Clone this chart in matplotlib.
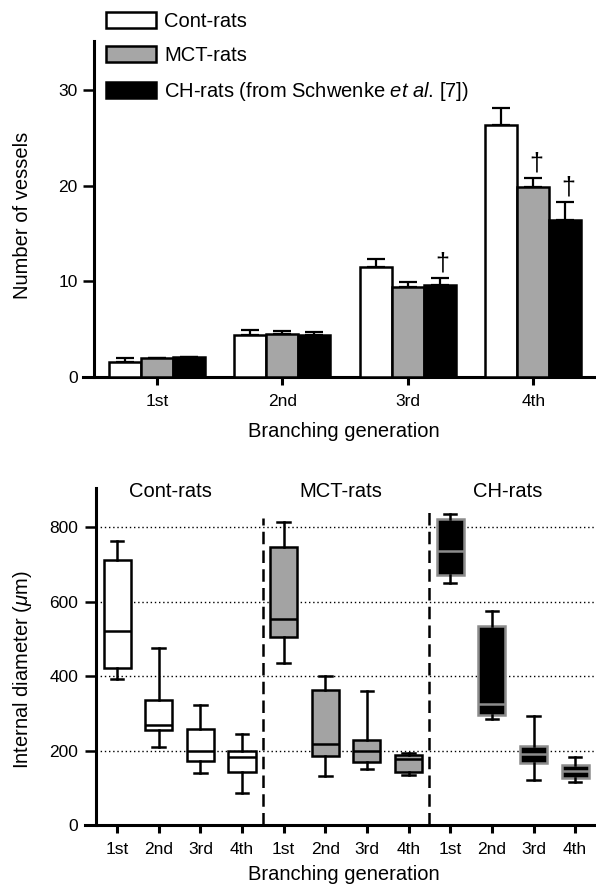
import numpy as np
import matplotlib
matplotlib.use("Agg")
import matplotlib.pyplot as plt
from matplotlib.patches import Patch

plt.rcParams['font.family'] = ['Liberation Sans', 'DejaVu Sans']
plt.rcParams['mathtext.fontset'] = 'custom'
plt.rcParams['mathtext.rm'] = 'Liberation Sans'
plt.rcParams['mathtext.it'] = 'Liberation Sans:italic'

# ----------------------------
# data: top panel (number of vessels)
# ----------------------------
generations = ['1st', '2nd', '3rd', '4th']
group_names = ['Cont-rats', 'MCT-rats', 'CH-rats (from Schwenke $\\it{et\\ al}$. [7])']

cont_mean = [1.6, 4.4, 11.5, 26.3]
cont_err = [0.35, 0.5, 0.8, 1.8]
mct_mean = [1.95, 4.5, 9.4, 19.9]
mct_err = [0.05, 0.35, 0.5, 0.9]
ch_mean = [2.1, 4.4, 9.6, 16.4]
ch_err = [0.0, 0.3, 0.7, 1.9]

# dagger = significant vs Cont-rats
mct_sig = [False, False, False, True]
ch_sig = [False, False, True, True]

# ----------------------------
# data: bottom panel (internal diameter, um)
# ----------------------------
box_groups = ['Cont-rats', 'MCT-rats', 'CH-rats']
cont_whislo = [393, 211, 140, 86]
cont_q1 = [421, 256, 173, 144]
cont_med = [522, 270, 199, 182]
cont_q3 = [712, 336, 258, 200]
cont_whishi = [763, 477, 323, 244]

mct_whislo = [435, 132, 150, 134]
mct_q1 = [505, 187, 171, 144]
mct_med = [553, 218, 199, 178]
mct_q3 = [748, 363, 229, 189]
mct_whishi = [815, 401, 359, 193]

ch_whislo = [651, 285, 122, 117]
ch_q1 = [672, 296, 166, 128]
ch_med = [736, 326, 191, 147]
ch_q3 = [821, 535, 213, 162]
ch_whishi = [835, 575, 292, 183]

grid_levels = [200, 400, 600, 800]

# ----------------------------
# figure
# ----------------------------
fig = plt.figure(figsize=(5.96, 8.86), dpi=100)
ax1 = fig.add_axes([83 / 596, 1 - 377 / 886, 513 / 596, 336 / 886])
ax2 = fig.add_axes([85 / 596, 1 - 825.3 / 886, 511 / 596, 337.3 / 886])

# ---- top: bars ----
X = np.arange(len(generations))
w = 0.255
series = [
    (cont_mean, cont_err, 'white', 'black'),
    (mct_mean, mct_err, '#a6a6a6', 'black'),
    (ch_mean, ch_err, 'black', 'black'),
]
for i, (vals, errs, fc, ec) in enumerate(series):
    pos = X + (i - 1) * w
    ax1.bar(pos, vals, width=w, color=fc, edgecolor=ec, linewidth=1.8, zorder=3)
    ax1.errorbar(pos, vals, yerr=[np.zeros(len(errs)), errs], fmt='none',
                 ecolor='black', elinewidth=1.6, capsize=6.5, capthick=1.6, zorder=2)

for i, (vals, errs, sig) in enumerate([(mct_mean, mct_err, mct_sig), (ch_mean, ch_err, ch_sig)]):
    pos = X + i * w
    for p, v, e, s in zip(pos, vals, errs, sig):
        if s:
            ax1.annotate('\u2020', xy=(p, v + e), xytext=(2, 2), textcoords='offset points',
                         ha='center', va='bottom', fontsize=18)

ax1.set_xlim(-0.59, 3.5)
ax1.set_ylim(0, 35.1)
ax1.set_xticks(X)
ax1.set_xticklabels(generations)
ax1.set_yticks([0, 10, 20, 30])
ax1.spines['top'].set_visible(False)
ax1.spines['right'].set_visible(False)
ax1.spines['left'].set_position(('data', -0.5))
for s in ['left', 'bottom']:
    ax1.spines[s].set_linewidth(2.2)
ax1.tick_params(axis='y', direction='out', length=8, width=1.8, labelsize=12.5, pad=4)
ax1.tick_params(axis='x', direction='out', length=6, width=2.2, labelsize=12.5, pad=6)
ax1.set_ylabel('Number of vessels', fontsize=14.5)
ax1.yaxis.set_label_coords(-0.10, 0.48)
ax1.set_xlabel('Branching generation', fontsize=14.5)
ax1.xaxis.set_label_coords(0.508, -0.133)

handles = [Patch(facecolor=c, edgecolor='black', linewidth=1.8) for c in ['white', '#a6a6a6', 'black']]
ax1.legend(handles, group_names, loc='upper left', bbox_to_anchor=(106 / 596, 1 - 12 / 886),
           bbox_transform=fig.transFigure, frameon=False, fontsize=14.5, borderpad=0,
           borderaxespad=0, handlelength=2.5, handleheight=0.85, handletextpad=0.4,
           labelspacing=0.75)

# ---- bottom: boxes ----
box_data = [
    (cont_whislo, cont_q1, cont_med, cont_q3, cont_whishi, 'white', 'black', 'black'),
    (mct_whislo, mct_q1, mct_med, mct_q3, mct_whishi, '#a3a3a3', 'black', 'black'),
    (ch_whislo, ch_q1, ch_med, ch_q3, ch_whishi, 'black', '#8c8c8c', '#8c8c8c'),
]
for g, (lo, q1, med, q3, hi, fc, ec, mc) in enumerate(box_data):
    stats = [dict(whislo=a, q1=b, med=c, q3=d, whishi=e, fliers=[])
             for a, b, c, d, e in zip(lo, q1, med, q3, hi)]
    pos = np.arange(4) + 4 * g
    ax2.bxp(stats, positions=pos, widths=0.65, capwidths=0.3, patch_artist=True,
            showfliers=False,
            boxprops=dict(facecolor=fc, edgecolor=ec, linewidth=1.8),
            medianprops=dict(color=mc, linewidth=1.8),
            whiskerprops=dict(color='black', linewidth=1.8),
            capprops=dict(color='black', linewidth=1.8),
            manage_ticks=False, zorder=3)

ax2.hlines(grid_levels, -0.5, 11.5, colors='black', linestyles=(0, (1, 2)), linewidth=1.0, zorder=1)
ax2.vlines([3.5], 0, 825, colors='black', linestyles=(0, (5, 2.5)), linewidth=1.8, zorder=2)
ax2.vlines([7.5], 0, 840, colors='black', linestyles=(0, (5, 2.5)), linewidth=1.8, zorder=2)

for name, xc in zip(box_groups, [1.27, 5.37, 9.38]):
    ax2.text(xc, 895, name, ha='center', va='center', fontsize=14.5)

ax2.set_xlim(-0.77, 11.5)
ax2.set_ylim(0, 905)
ax2.set_xticks(np.arange(12))
ax2.set_xticklabels(generations * 3)
ax2.set_yticks([0, 200, 400, 600, 800])
ax2.spines['top'].set_visible(False)
ax2.spines['right'].set_visible(False)
ax2.spines['left'].set_position(('data', -0.5))
for s in ['left', 'bottom']:
    ax2.spines[s].set_linewidth(2.2)
ax2.tick_params(axis='y', direction='out', length=8, width=1.8, labelsize=12.5, pad=5)
ax2.tick_params(axis='x', direction='out', length=6, width=2.2, labelsize=12.5, pad=6)
ax2.set_ylabel('Internal diameter ($\\mu$m)', fontsize=14.5)
ax2.yaxis.set_label_coords(-0.10, 0.46)
ax2.set_xlabel('Branching generation', fontsize=14.5)
ax2.xaxis.set_label_coords(0.506, -0.118)

fig.savefig('out.png', dpi=100)
print('Saved out.png')
